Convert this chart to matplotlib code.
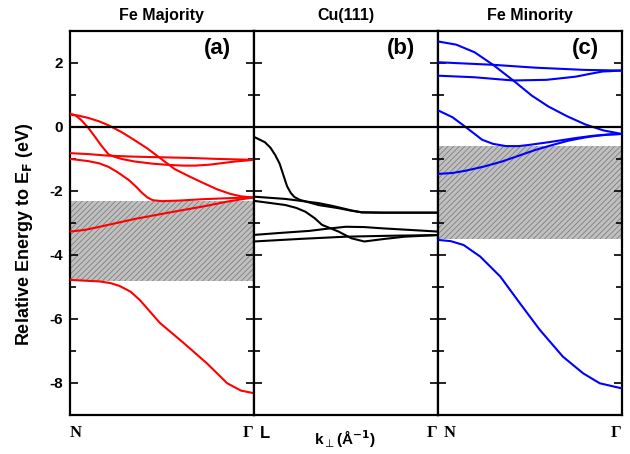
import matplotlib
matplotlib.use("Agg")
import matplotlib.pyplot as plt
from matplotlib.ticker import MultipleLocator

plt.rcParams['font.family'] = ['Liberation Sans', 'DejaVu Sans']
plt.rcParams['mathtext.fontset'] = 'dejavusans'
plt.rcParams['mathtext.default'] = 'bf'
plt.rcParams['axes.unicode_minus'] = False
plt.rcParams['hatch.linewidth'] = 0.6

# ---- data (k along path, 0 -> 1 in each panel; energies in eV) ----
maj_k = [
    [0, 0.04, 0.1, 0.16, 0.21, 0.28, 0.35, 0.42, 0.48, 0.57, 0.65, 0.72, 0.8, 0.87, 0.93, 1.0],
    [0, 0.03, 0.06, 0.1, 0.135, 0.17, 0.21, 0.24, 0.28, 0.35, 0.45, 0.54, 0.62, 0.68, 0.76, 0.83, 0.9, 1.0],
    [0, 0.1, 0.21, 0.35, 0.5, 0.65, 0.8, 1.0],
    [0, 0.1, 0.16, 0.21, 0.26, 0.32, 0.36, 0.39, 0.42, 0.45, 0.5, 0.6, 0.72, 0.85, 1.0],
    [0, 0.08, 0.17, 0.35, 0.535, 0.72, 0.86, 1.0],
    [0, 0.164, 0.22, 0.27, 0.33, 0.38, 0.49, 0.62, 0.745, 0.855, 0.93, 1.0],
]
maj_e = [
    [0.38, 0.36, 0.28, 0.17, 0.05, -0.16, -0.41, -0.67, -0.93, -1.32, -1.55, -1.74, -1.95, -2.09, -2.17, -2.21],
    [0.42, 0.36, 0.22, -0.03, -0.30, -0.58, -0.86, -0.93, -1.0, -1.08, -1.15, -1.19, -1.21, -1.21, -1.18, -1.13, -1.08, -1.03],
    [-0.82, -0.85, -0.9, -0.93, -0.95, -0.97, -1.0, -1.03],
    [-1.0, -1.07, -1.14, -1.25, -1.42, -1.66, -1.87, -2.05, -2.2, -2.29, -2.32, -2.30, -2.26, -2.23, -2.2],
    [-3.27, -3.22, -3.11, -2.88, -2.68, -2.49, -2.33, -2.2],
    [-4.78, -4.83, -4.88, -4.97, -5.15, -5.41, -6.13, -6.76, -7.39, -8.01, -8.24, -8.32],
]

cu_k = [
    [0, 0.06, 0.09, 0.116, 0.14, 0.16, 0.18, 0.2, 0.22, 0.25, 0.3, 0.35, 0.46, 0.53, 0.587, 0.7, 1.0],
    [0, 0.17, 0.35, 0.42, 0.48, 0.53, 0.587, 0.7, 1.0],
    [0, 0.17, 0.23, 0.28, 0.33, 0.37, 0.46, 0.53, 0.6, 0.71, 0.82, 1.0],
    [0, 0.15, 0.3, 0.4, 0.5, 0.6, 0.7, 0.85, 1.0],
    [0, 0.25, 0.5, 0.75, 1.0],
]
cu_e = [
    [-0.31, -0.48, -0.65, -0.88, -1.15, -1.5, -1.85, -2.06, -2.19, -2.28, -2.36, -2.44, -2.54, -2.62, -2.67, -2.68, -2.68],
    [-2.18, -2.25, -2.38, -2.46, -2.54, -2.61, -2.67, -2.68, -2.68],
    [-2.31, -2.44, -2.53, -2.65, -2.85, -3.06, -3.27, -3.48, -3.58, -3.5, -3.43, -3.38],
    [-3.375, -3.31, -3.25, -3.18, -3.12, -3.13, -3.17, -3.22, -3.27],
    [-3.58, -3.5, -3.43, -3.4, -3.38],
]

min_k = [
    [0, 0.1, 0.2, 0.3, 0.41, 0.51, 0.6, 0.7, 0.8, 0.9, 1.0],
    [0, 0.3, 0.53, 0.8, 1.0],
    [0, 0.2, 0.41, 0.59, 0.75, 0.82, 0.895, 1.0],
    [0, 0.08, 0.15, 0.2, 0.24, 0.3, 0.37, 0.44, 0.5, 0.6, 0.68, 0.76, 0.84, 0.92, 1.0],
    [0, 0.08, 0.15, 0.25, 0.35, 0.44, 0.53, 0.62, 0.71, 0.8, 0.86, 0.93, 1.0],
    [0, 0.07, 0.14, 0.23, 0.34, 0.446, 0.554, 0.68, 0.79, 0.88, 1.0],
]
min_e = [
    [2.67, 2.57, 2.33, 1.94, 1.45, 0.98, 0.64, 0.34, 0.08, -0.11, -0.22],
    [2.02, 1.94, 1.85, 1.78, 1.76],
    [1.60, 1.55, 1.45, 1.47, 1.57, 1.65, 1.73, 1.76],
    [0.52, 0.30, 0.0, -0.22, -0.40, -0.53, -0.60, -0.60, -0.56, -0.48, -0.41, -0.34, -0.28, -0.24, -0.22],
    [-1.47, -1.44, -1.37, -1.24, -1.08, -0.90, -0.72, -0.57, -0.43, -0.33, -0.28, -0.24, -0.22],
    [-3.53, -3.57, -3.69, -4.05, -4.68, -5.51, -6.34, -7.18, -7.70, -8.01, -8.17],
]

maj_gap = (-4.80, -2.33)
min_gap = (-3.51, -0.61)

titles = ['Fe Majority', 'Cu(111)', 'Fe Minority']
tags = ['(a)', '(b)', '(c)']
colors = ['#ff0000', 'black', '#0000ff']

fig, axes = plt.subplots(1, 3, sharey=True, figsize=(6.3, 4.54), dpi=100)
fig.subplots_adjust(left=0.111, right=0.987, bottom=0.086, top=0.932, wspace=0)

panels = [(maj_k, maj_e, maj_gap), (cu_k, cu_e, None), (min_k, min_e, min_gap)]
for ax, (ks, es, gap), title, tag, c in zip(axes, panels, titles, tags, colors):
    if gap is not None:
        ax.axhspan(gap[0], gap[1], facecolor='#c0c0c0', edgecolor='#7f7f7f',
                   hatch='//////', lw=0, zorder=1)
    for k, e in zip(ks, es):
        ax.plot(k, e, color=c, lw=1.5, zorder=3)
    ax.axhline(0, color='black', lw=1.6, zorder=4)
    ax.set_xlim(0, 1)
    ax.set_ylim(-9, 3)
    ax.set_xticks([])
    ax.yaxis.set_major_locator(MultipleLocator(2))
    ax.yaxis.set_minor_locator(MultipleLocator(1))
    ax.tick_params(axis='y', which='both', direction='in', left=True, right=True, width=1.2)
    ax.tick_params(axis='y', which='major', length=5.5, pad=5)
    ax.tick_params(axis='y', which='minor', length=4)
    for s in ax.spines.values():
        s.set_linewidth(1.6)
    ax.set_title(title, fontsize=11.5, fontweight='bold', pad=8)
    ax.text(0.80, 0.953, tag, transform=ax.transAxes, fontsize=16, fontweight='bold',
            ha='center', va='center')

for lab in axes[0].get_yticklabels():
    lab.set_fontweight('bold')
    lab.set_fontsize(11)

axes[0].set_ylabel('Relative Energy to E$_F$ (eV)', fontsize=13, fontweight='bold')
axes[0].yaxis.set_label_coords(-0.19, 0.47)

serif = dict(family='Liberation Serif', fontweight='bold', fontsize=12, va='center')
axes[0].text(0.0, -0.047, 'N', transform=axes[0].transAxes, ha='left', **serif)
axes[0].text(0.995, -0.047, 'Γ', transform=axes[0].transAxes, ha='right', **serif)
axes[1].text(0.03, -0.047, 'L', transform=axes[1].transAxes, ha='left',
             fontsize=12, fontweight='bold', va='center')
axes[1].text(0.995, -0.047, 'Γ', transform=axes[1].transAxes, ha='right', **serif)
axes[2].text(0.03, -0.047, 'N', transform=axes[2].transAxes, ha='left', **serif)
axes[2].text(0.995, -0.047, 'Γ', transform=axes[2].transAxes, ha='right', **serif)

fig.text(0.548, 0.033, r'k$_{\mathrm{\bot}}$(Å$^{-1}$)', fontsize=11, fontweight='bold',
         ha='center', va='center')

fig.savefig('out.png', dpi=100)
